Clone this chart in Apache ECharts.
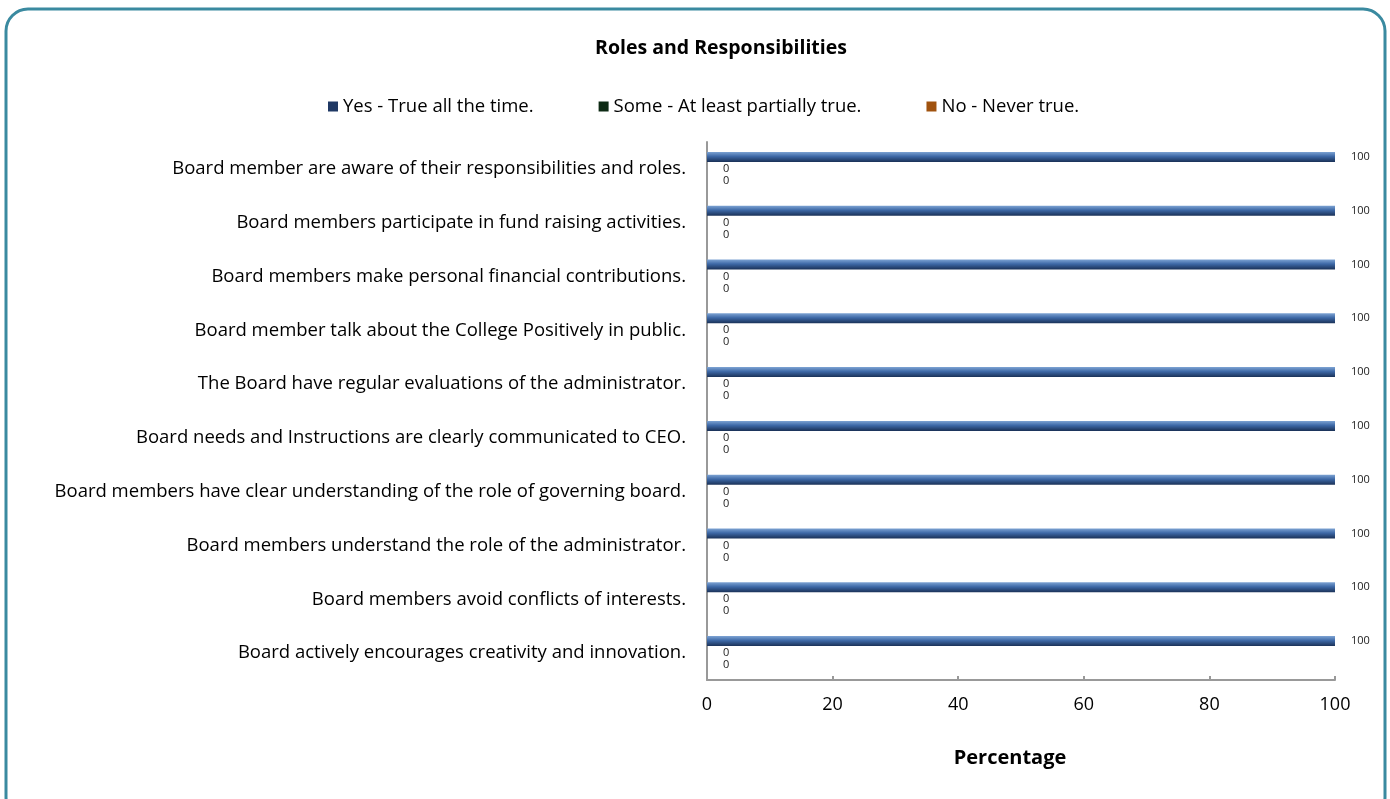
<!DOCTYPE html>
<html><head><meta charset="utf-8">
<script src="https://cdn.jsdelivr.net/npm/echarts@6/dist/echarts.min.js"></script>
<style>html,body{margin:0;padding:0;background:#fff}#c{width:1390px;height:799px}</style>
</head><body><div id="c"></div>
<script>
const categories = [
  "Board member are aware of their responsibilities and roles.",
  "Board members participate in fund raising activities.",
  "Board members make personal financial contributions.",
  "Board member talk about the College Positively in public.",
  "The Board have regular evaluations of the administrator.",
  "Board needs and Instructions are clearly communicated to CEO.",
  "Board members have clear understanding of the role of governing board.",
  "Board members understand the role of the administrator.",
  "Board members avoid conflicts of interests.",
  "Board actively encourages creativity and innovation."
];
const yesValues = [100,100,100,100,100,100,100,100,100,100];
const someValues = [0,0,0,0,0,0,0,0,0,0];
const noValues = [0,0,0,0,0,0,0,0,0,0];
const xTicks = [0,20,40,60,80,100];

const FONT = "'Open Sans', 'Liberation Sans', Arial, sans-serif";
function grad(light, mid, dark){
  return new echarts.graphic.LinearGradient(0,0,0,1,[
    {offset:0,color:light},{offset:0.45,color:mid},{offset:1,color:dark}]);
}
const lbl = {show:true, position:'right', distance:16, fontSize:11, color:'#222', fontFamily:FONT};
const chart = echarts.init(document.getElementById('c'), null, {renderer:'canvas'});
chart.setOption({
  animation:false,
  backgroundColor:'#fff',
  title:{text:'Roles and Responsibilities', left:716, textAlign:'center', top:33,
    textStyle:{fontSize:19.5, fontWeight:'bold', color:'#000', fontFamily:FONT}},
  legend:{top:92, left:323, itemWidth:10, itemHeight:10, itemGap:65, icon:'rect',
    textStyle:{fontSize:18.5, color:'#000', fontFamily:FONT},
    data:[
      {name:'Yes - True all the time.', itemStyle:{color:'#1f3864'}},
      {name:'Some - At least partially true.', itemStyle:{color:'#0d2a14'}},
      {name:'No - Never true.', itemStyle:{color:'#a0520e'}}]},
  grid:{left:707, right:55, top:142, bottom:119, containLabel:false},
  xAxis:{type:'value', min:0, max:100, interval:20,
    axisLine:{show:true, lineStyle:{color:'#999', width:2}},
    axisTick:{show:true, inside:true, length:4, lineStyle:{color:'#999', width:2}},
    splitLine:{show:false},
    axisLabel:{fontSize:18, color:'#000', margin:16, fontFamily:FONT,
      formatter:v=>xTicks.includes(v)?String(v):''},
    name:'Percentage', nameLocation:'middle', nameGap:68,
    nameTextStyle:{fontSize:20, fontWeight:'bold', color:'#000', fontFamily:FONT, padding:[0,22,0,0]}},
  yAxis:{type:'category', data:categories, inverse:true,
    axisLine:{show:true, lineStyle:{color:'#999', width:2}},
    axisTick:{show:false},
    axisLabel:{fontSize:18.5, color:'#000', margin:21, fontFamily:FONT}},
  series:[
    {name:'Yes - True all the time.', type:'bar', data:yesValues, barWidth:10, barGap:'20%',
      itemStyle:{color:grad('#7da3d3','#3d68a6','#1a3157')}, label:lbl},
    {name:'Some - At least partially true.', type:'bar', data:someValues, barWidth:10, barGap:'20%',
      itemStyle:{color:'#0d2a14'}, label:lbl},
    {name:'No - Never true.', type:'bar', data:noValues, barWidth:10, barGap:'20%',
      itemStyle:{color:'#a0520e'}, label:lbl}
  ],
  graphic:[{type:'rect', shape:{x:6, y:9, width:1379, height:810, r:22}, z:-1,
    style:{fill:'none', stroke:'#3a8aa0', lineWidth:3}}]
});
</script></body></html>
